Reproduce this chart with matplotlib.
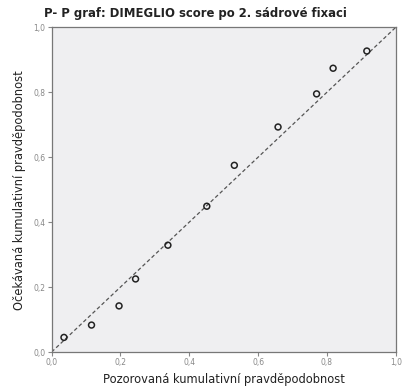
import numpy as np
import matplotlib
matplotlib.use("Agg")
import matplotlib.pyplot as plt
from matplotlib.ticker import FuncFormatter

# observed vs expected cumulative probability
observed = [0.036, 0.116, 0.196, 0.244, 0.338, 0.451, 0.531, 0.658, 0.770, 0.818, 0.916]
expected = [0.045, 0.083, 0.142, 0.225, 0.329, 0.449, 0.575, 0.693, 0.795, 0.874, 0.927]
ticks = [0.0, 0.2, 0.4, 0.6, 0.8, 1.0]

fig = plt.figure(figsize=(4.03, 3.87), dpi=100)
ax = fig.add_axes([0.128, 0.0904, 0.854, 0.839])
ax.set_facecolor("#efeff1")

ax.plot([0, 1], [0, 1], linestyle=(0, (3, 2)), color="#555555", linewidth=0.9, zorder=2)
ax.scatter(observed, expected, s=18, facecolors="none", edgecolors="#222222", linewidths=1.1, zorder=3)

ax.set_xlim(0, 1)
ax.set_ylim(0, 1)
ax.set_xticks(ticks)
ax.set_yticks(ticks)
fmt = FuncFormatter(lambda v, p: ("%.1f" % v).replace(".", ","))
ax.xaxis.set_major_formatter(fmt)
ax.yaxis.set_major_formatter(fmt)
ax.tick_params(labelsize=5.5, colors="#888888", length=3, width=0.8, pad=1.5)
for s in ax.spines.values():
    s.set_color("#777777")
    s.set_linewidth(0.9)

ax.set_xlabel("Pozorovaná kumulativní pravděpodobnost", fontsize=8.3, color="#222222", labelpad=4)
ax.set_ylabel("Očekávaná kumulativní pravděpodobnost", fontsize=8.3, color="#222222", labelpad=5)
fig.text(195 / 403, 1 - 13 / 387, "P- P graf: DIMEGLIO score po 2. sádrové fixaci",
         fontsize=8.4, fontweight="bold", color="#222222", ha="center", va="center")

fig.savefig("out.png", dpi=100)
